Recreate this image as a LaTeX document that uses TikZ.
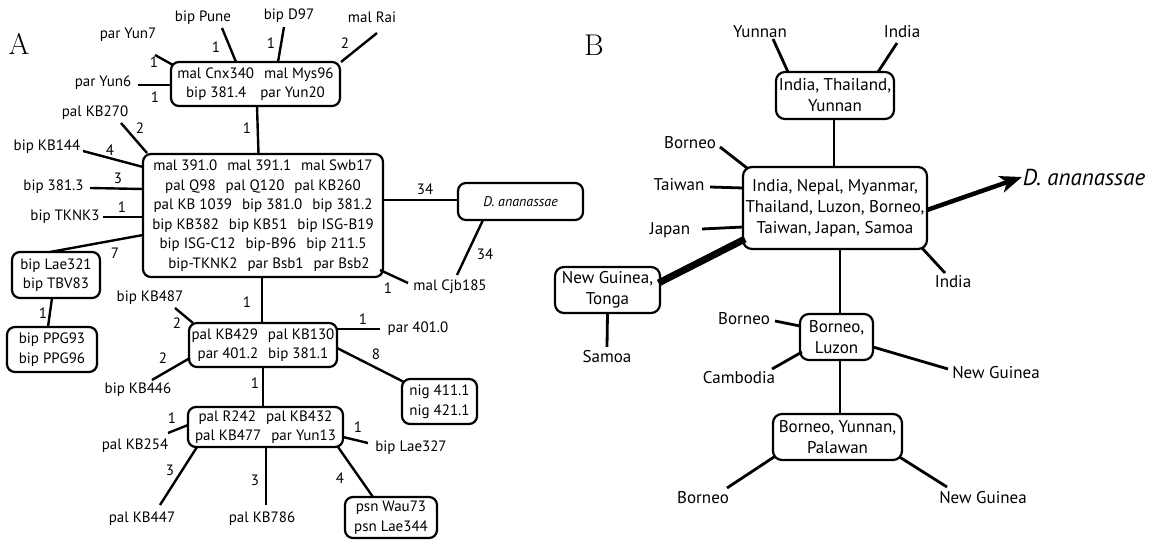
\documentclass[tikz,border=0pt]{standalone}
\usepackage{fontspec}
\newfontfamily\ptsans{PT Sans}
\usetikzlibrary{arrows.meta}
\newcommand\fa{\ptsans\fontsize{15}{19.5}\selectfont}
\newcommand\fb{\ptsans\fontsize{17}{21}\selectfont}
\newcommand\gap{\hspace{10pt}}
\begin{document}
\begin{tikzpicture}[x=1pt,y=-1pt,
  box/.style={draw, rounded corners=8pt, line width=2.2pt, inner sep=0pt, align=center, font=\fa},
  bbox/.style={draw, rounded corners=9pt, line width=2.2pt, inner sep=0pt, align=center, font=\fb},
  lab/.style={inner sep=0pt, font=\fa},
  blab/.style={inner sep=0pt, font=\fb},
  wt/.style={inner sep=0pt, font=\fa},
  ln/.style={line width=2.4pt},
  bln/.style={line width=2.8pt},
  panel/.style={inner sep=0pt, font=\fontsize{30}{30}\selectfont}]
\useasboundingbox (0,0) rectangle (1159,540);
\node[panel] (pA) at (19,44) {A};
\node[panel] (pB) at (594,45) {B};
% ---------- Panel A boxes
\node[box, minimum width=169pt, minimum height=44pt] (b1) at (255.5,84) {mal Cnx340\gap mal Mys96\\bip 381.4\gap\hspace{4pt}par Yun20};
\node[box, minimum width=240pt, minimum height=123pt] (b2) at (263,215.5) {mal 391.0\gap mal 391.1\gap mal Swb17\\pal Q98\gap pal Q120\gap pal KB260\\pal KB 1039\gap bip 381.0\gap bip 381.2\\bip KB382\gap bip KB51\gap bip ISG-B19\\bip ISG-C12\gap bip-B96\gap bip 211.5\\\hspace{12pt}bip-TKNK2\gap par Bsb1\gap par Bsb2};
\node[box, minimum width=125pt, minimum height=37pt, font=\ptsans\itshape\fontsize{14}{19}\selectfont] (dan) at (520.5,201.5) {D. ananassae};
\node[box, minimum width=88pt, minimum height=46pt] (lae) at (56,275) {bip Lae321\\bip TBV83};
\node[box, minimum width=90pt, minimum height=45pt] (ppg) at (52,349.5) {bip PPG93\\bip PPG96};
\node[box, minimum width=148pt, minimum height=44pt] (b3) at (263,345) {pal KB429\gap pal KB130\\par 401.2\gap bip 381.1};
\node[box, minimum width=75pt, minimum height=45pt] (nig) at (439.5,401.5) {nig 411.1\\nig 421.1};
\node[box, minimum width=155pt, minimum height=40pt] (b4) at (265.5,427) {pal R242\gap pal KB432\\pal KB477\gap par Yun13};
\node[box, minimum width=92pt, minimum height=41pt] (psn) at (391,517.5) {psn Wau73\\psn Lae344};
% ---------- Panel A leaves
\node[lab] (yun7) at (128,35) {par Yun7};
\node[lab] (yun6) at (103,83) {par Yun6};
\node[lab] (pune) at (203,18) {bip Pune};
\node[lab] (d97) at (289,16) {bip D97};
\node[lab] (rai) at (372,17) {mal Rai};
\node[lab] (kb270) at (95,113) {pal KB270};
\node[lab] (kb144) at (47,147) {bip KB144};
\node[lab] (b3813) at (53.5,187) {bip 381.3};
\node[lab] (tknk3) at (65,217) {bip TKNK3};
\node[lab] (cjb) at (450,287) {mal Cjb185};
\node[lab] (kb487) at (150,298) {bip KB487};
\node[lab] (kb446) at (138,390) {bip KB446};
\node[lab] (p4010) at (418,329) {par 401.0};
\node[lab] (kb254) at (135,446) {pal KB254};
\node[lab] (lae327) at (411,448) {bip Lae327};
\node[lab] (kb447) at (142,519) {pal KB447};
\node[lab] (kb786) at (262,519) {pal KB786};
% ---------- Panel A edges
\draw[ln] ([shift={(27,20)}]yun7.center) -- ([shift={(-82.5,-19)}]b1.center);
\draw[ln] ([shift={(35,2)}]yun6.center) -- ([shift={(0,1)}]b1.west);
\draw[ln] ([shift={(19,10)}]pune.center) -- ([shift={(-19.5,-22)}]b1.center);
\draw[ln] ([shift={(-5,11)}]d97.center) -- ([shift={(22.5,-22)}]b1.center);
\draw[ln] ([shift={(5,16)}]rai.center) -- ([shift={(85.5,-22)}]b1.center);
\draw[ln] ([shift={(1.5,22)}]b1.center) -- ([shift={(-4.5,-61.5)}]b2.center);
\draw[ln] ([shift={(26,10)}]kb270.center) -- ([shift={(-116,-62.5)}]b2.center);
\draw[ln] ([shift={(36,4)}]kb144.center) -- ([shift={(-120,-48.5)}]b2.center);
\draw[ln] ([shift={(36.5,1)}]b3813.center) -- ([shift={(-120,-26.5)}]b2.center);
\draw[ln] ([shift={(38,0)}]tknk3.center) -- ([shift={(-120,1.5)}]b2.center);
\draw[ln] ([shift={(-120,19.5)}]b2.center) -- ([shift={(-6,-23)}]lae.center);
\draw[ln] ([shift={(-4,23)}]lae.center) -- ([shift={(-4,-22.5)}]ppg.center);
\draw[ln] ([shift={(120,-15.5)}]b2.center) -- ([shift={(-62.5,-1.5)}]dan.center);
\draw[ln] ([shift={(-37.5,18.5)}]dan.center) -- ([shift={(7,-12)}]cjb.center);
\draw[ln] ([shift={(117,54.5)}]b2.center) -- ([shift={(-42,-4)}]cjb.center);
\draw[ln] ([shift={(-1,61.5)}]b2.center) -- ([shift={(-1,-22)}]b3.center);
\draw[ln] ([shift={(25,10)}]kb487.center) -- ([shift={(-70,-22)}]b3.center);
\draw[ln] ([shift={(14,-10)}]kb446.center) -- ([shift={(-73,13)}]b3.center);
\draw[ln] ([shift={(74,-16)}]b3.center) -- ([shift={(-38,0)}]p4010.center);
\draw[ln] ([shift={(74,3)}]b3.center) -- ([shift={(-35.5,-19.5)}]nig.center);
\draw[ln] ([shift={(0,22)}]b3.center) -- ([shift={(-2.5,-20)}]b4.center);
\draw[ln] ([shift={(33,-13)}]kb254.center) -- ([shift={(-77.5,-2)}]b4.center);
\draw[ln] ([shift={(77.5,10)}]b4.center) -- ([shift={(-43,-5)}]lae327.center);
\draw[ln] ([shift={(-68.5,20)}]b4.center) -- ([shift={(18,-14)}]kb447.center);
\draw[ln] ([shift={(0.5,20)}]b4.center) -- ([shift={(4,-14)}]kb786.center);
\draw[ln] ([shift={(72.5,20)}]b4.center) -- ([shift={(-18,-20.5)}]psn.center);
% ---------- Panel A weights
\node[wt] (w1) at (154,62) {1};
\node[wt] (w2) at (155,97) {1};
\node[wt] (w3) at (216,47) {1};
\node[wt] (w4) at (271,43) {1};
\node[wt] (w5) at (345,43) {2};
\node[wt] (w6) at (247,128) {1};
\node[wt] (w7) at (140,128) {2};
\node[wt] (w8) at (110,150) {4};
\node[wt] (w9) at (118,178) {3};
\node[wt] (w10) at (122,207) {1};
\node[wt] (w11) at (115,253) {7};
\node[wt] (w12) at (43,313) {1};
\node[wt] (w13) at (425,189) {34};
\node[wt] (w14) at (485,254) {34};
\node[wt] (w15) at (388,288) {1};
\node[wt] (w16) at (247,302) {1};
\node[wt] (w17) at (177,323) {2};
\node[wt] (w18) at (163,358) {2};
\node[wt] (w19) at (363,319) {1};
\node[wt] (w20) at (376,354) {8};
\node[wt] (w21) at (255,383) {1};
\node[wt] (w22) at (172,418) {1};
\node[wt] (w23) at (358,427) {1};
\node[wt] (w24) at (170,470) {3};
\node[wt] (w25) at (255,480) {3};
\node[wt] (w26) at (340,478) {4};
% ---------- Panel B boxes
\node[bbox, minimum width=118pt, minimum height=47pt] (B1) at (835,95.5) {India, Thailand,\\Yunnan};
\node[bbox, minimum width=184pt, minimum height=82pt] (B2) at (835,208) {India, Nepal, Myanmar,\\Thailand, Luzon, Borneo,\\Taiwan, Japan, Samoa};
\node[bbox, minimum width=105pt, minimum height=46pt] (ng) at (607.5,290) {New Guinea,\\Tonga};
\node[bbox, minimum width=73pt, minimum height=46pt] (B3) at (836.5,337) {Borneo,\\Luzon};
\node[bbox, minimum width=129pt, minimum height=46pt] (B4) at (837.5,437) {Borneo, Yunnan,\\Palawan};
% ---------- Panel B leaves
\node[blab] (yunB) at (760,32) {Yunnan};
\node[blab] (indB1) at (902,32) {India};
\node[blab] (borB1) at (690,143) {Borneo};
\node[blab] (taiw) at (679,185) {Taiwan};
\node[blab] (jap) at (670,230) {Japan};
\node[blab, font=\ptsans\itshape\fontsize{23}{25}\selectfont] (danB) at (1084,177) {D. ananassae};
\node[blab] (samoa) at (607,357) {Samoa};
\node[blab] (indB2) at (953,282) {India};
\node[blab] (borB2) at (744,319) {Borneo};
\node[blab] (camb) at (739,378) {Cambodia};
\node[blab] (ngB1) at (996,373) {New Guinea};
\node[blab] (borB3) at (703,498) {Borneo};
\node[blab] (ngB2) at (983,498) {New Guinea};
% ---------- Panel B edges
\draw[bln] ([shift={(13,7)}]yunB.center) -- ([shift={(-47,-23.5)}]B1.center);
\draw[bln] ([shift={(-5,11)}]indB1.center) -- ([shift={(43,-23.5)}]B1.center);
\draw[bln] ([shift={(-1,23.5)}]B1.center) -- ([shift={(-1,-41)}]B2.center);
\draw[bln] ([shift={(30,4)}]borB1.center) -- ([shift={(-88,-40)}]B2.center);
\draw[bln] ([shift={(31,2)}]taiw.center) -- ([shift={(-92,-20)}]B2.center);
\draw[bln] ([shift={(32,-1)}]jap.center) -- ([shift={(-92,19)}]B2.center);
\draw[line width=4.5pt, -{Stealth[length=22pt,width=17pt,inset=6pt]}] ([shift={(92,2)}]B2.center) -- ([shift={(-62,0)}]danB.center);
\draw[line width=7pt] ([shift={(-90,31)}]B2.center) -- ([shift={(51,-7)}]ng.center);
\draw[bln] ([shift={(0,23)}]ng.center) -- ([shift={(0,-10)}]samoa.center);
\draw[bln] ([shift={(87,40)}]B2.center) -- ([shift={(-8,-9)}]indB2.center);
\draw[bln] ([shift={(5,41)}]B2.center) -- ([shift={(3.5,-23)}]B3.center);
\draw[bln] ([shift={(31,2)}]borB2.center) -- ([shift={(-36.5,-11)}]B3.center);
\draw[bln] ([shift={(33,-9)}]camb.center) -- ([shift={(-34.5,15)}]B3.center);
\draw[bln] ([shift={(36.5,10)}]B3.center) -- ([shift={(-48,-4)}]ngB1.center);
\draw[bln] ([shift={(3.5,23)}]B3.center) -- ([shift={(2.5,-23)}]B4.center);
\draw[bln] ([shift={(-62,19)}]B4.center) -- ([shift={(24,-10)}]borB3.center);
\draw[bln] ([shift={(62,20)}]B4.center) -- ([shift={(-36,-11)}]ngB2.center);
\end{tikzpicture}
\end{document}
